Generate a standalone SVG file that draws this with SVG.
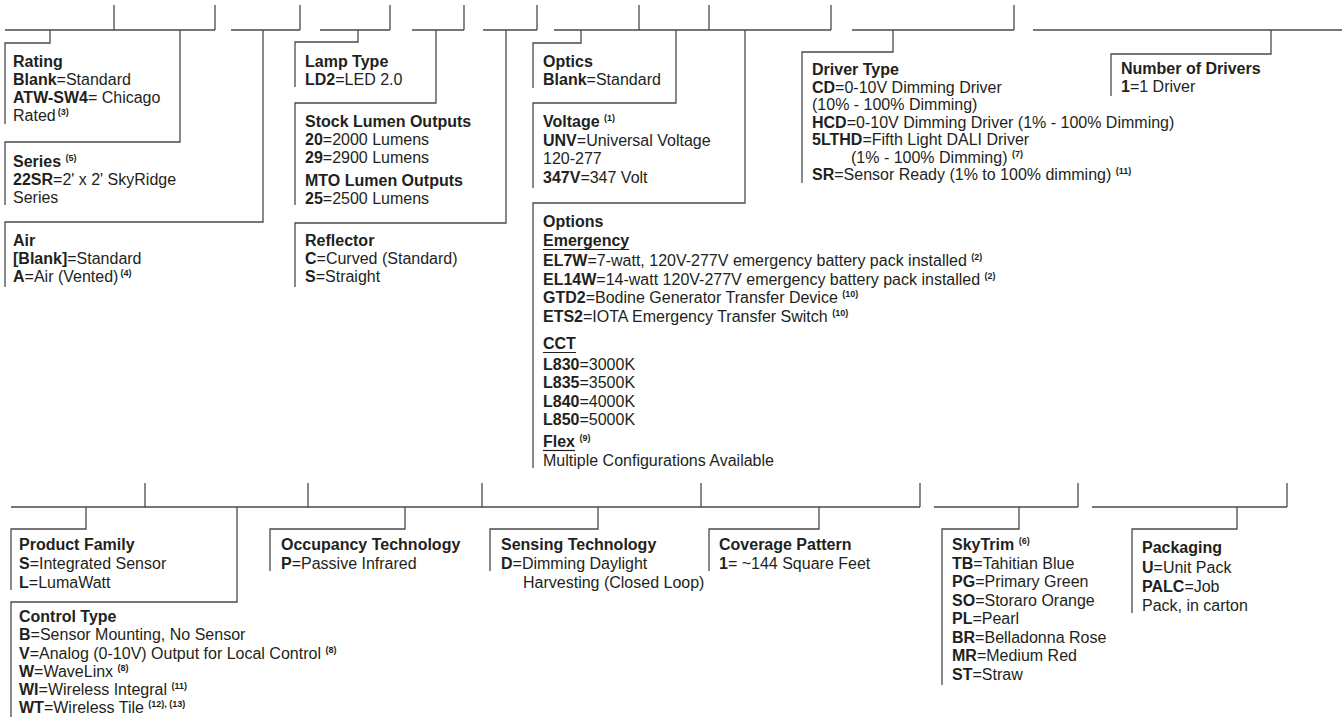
<svg xmlns="http://www.w3.org/2000/svg" width="1342" height="717" viewBox="0 0 1342 717">
<style>
.t{font-family:"Liberation Sans",Arial,Helvetica,sans-serif;font-size:16px;fill:#231f20}
.b{font-weight:bold}
.s{font-size:9px;font-weight:bold}
.ln{stroke:#4a4a4a;stroke-width:1.3;fill:none}
.ul{stroke:#231f20;stroke-width:1.2}
</style>
<rect width="1342" height="717" fill="#ffffff"/>
<g id="connectors" class="ln">
<path d="M5,30H215M114,5V30M215,5V30"/>
<path d="M231,30H300M300,5V30"/>
<path d="M320,30H390M390,5V30"/>
<path d="M412,30H464M464,5V30"/>
<path d="M483,30H537M537,5V30"/>
<path d="M554,30H831M639,5V30M709,5V30M831,5V30"/>
<path d="M852,30H1014M1014,5V30"/>
<path d="M1033,30H1342"/>
<path d="M50,30V43H5V124"/>
<path d="M180,30V142H5V205"/>
<path d="M263,30V222H5V287"/>
<path d="M358,30V42H295V87"/>
<path d="M436,30V103H295V205"/>
<path d="M506,30V223H295V287"/>
<path d="M581,30V43H533V88"/>
<path d="M676,30V103H533V188"/>
<path d="M745,30V203H533V468"/>
<path d="M893,30V52H802V183"/>
<path d="M1271,30V54H1111V96"/>
<path d="M11,507H920M145,483V507M308,483V507M482,483V507M701,483V507M920,483V507"/>
<path d="M934,507H1078M1078,483V507"/>
<path d="M1092,507H1287M1287,483V507"/>
<path d="M86,507V529H11V590"/>
<path d="M237,507V602H11V717"/>
<path d="M405,507V529H270V571"/>
<path d="M598,507V529H490V571"/>
<path d="M819,507V529H709V571"/>
<path d="M1019,507V529H942V685"/>
<path d="M1237,507V529H1132V613"/>
</g>
<g id="rating" class="t">
<text x="13" y="67" class="b">Rating</text>
<text x="13" y="85"><tspan class="b">Blank</tspan>=Standard</text>
<text x="13" y="103"><tspan class="b">ATW-SW4</tspan>= Chicago</text>
<text x="13" y="121">Rated<tspan class="s" dx="2" dy="-6">(3)</tspan></text>
</g>
<g id="series" class="t">
<text x="13" y="167"><tspan class="b">Series</tspan> <tspan class="s" dy="-6">(5)</tspan></text>
<text x="13" y="185"><tspan class="b">22SR</tspan>=2' x 2' SkyRidge</text>
<text x="13" y="203">Series</text>
</g>
<g id="air" class="t">
<text x="13" y="246" class="b">Air</text>
<text x="13" y="264"><tspan class="b">[Blank]</tspan>=Standard</text>
<text x="13" y="282"><tspan class="b">A</tspan>=Air (Vented)<tspan class="s" dx="2" dy="-6">(4)</tspan></text>
</g>
<g id="lamp-type" class="t">
<text x="305" y="67" class="b">Lamp Type</text>
<text x="305" y="85"><tspan class="b">LD2</tspan>=LED 2.0</text>
</g>
<g id="lumen-outputs" class="t">
<text x="305" y="127" class="b">Stock Lumen Outputs</text>
<text x="305" y="145"><tspan class="b">20</tspan>=2000 Lumens</text>
<text x="305" y="163"><tspan class="b">29</tspan>=2900 Lumens</text>
<text x="305" y="186" class="b">MTO Lumen Outputs</text>
<text x="305" y="204"><tspan class="b">25</tspan>=2500 Lumens</text>
</g>
<g id="reflector" class="t">
<text x="305" y="246" class="b">Reflector</text>
<text x="305" y="264"><tspan class="b">C</tspan>=Curved (Standard)</text>
<text x="305" y="282"><tspan class="b">S</tspan>=Straight</text>
</g>
<g id="optics" class="t">
<text x="543" y="67" class="b">Optics</text>
<text x="543" y="85"><tspan class="b">Blank</tspan>=Standard</text>
</g>
<g id="voltage" class="t">
<text x="543" y="127"><tspan class="b">Voltage</tspan> <tspan class="s" dy="-6">(1)</tspan></text>
<text x="543" y="145.5"><tspan class="b">UNV</tspan>=Universal Voltage</text>
<text x="543" y="164">120-277</text>
<text x="543" y="182.5"><tspan class="b">347V</tspan>=347 Volt</text>
</g>
<g id="options" class="t">
<text x="543" y="227" class="b">Options</text>
<text x="543" y="246" class="b">Emergency</text>
<line class="ul" x1="543" y1="249.5" x2="629" y2="249.5"/>
<text x="543" y="266"><tspan class="b">EL7W</tspan>=7-watt, 120V-277V emergency battery pack installed <tspan class="s" dy="-6">(2)</tspan></text>
<text x="543" y="284.5"><tspan class="b">EL14W</tspan>=14-watt 120V-277V emergency battery pack installed <tspan class="s" dy="-6">(2)</tspan></text>
<text x="543" y="303"><tspan class="b">GTD2</tspan>=Bodine Generator Transfer Device <tspan class="s" dy="-6">(10)</tspan></text>
<text x="543" y="321.5"><tspan class="b">ETS2</tspan>=IOTA Emergency Transfer Switch <tspan class="s" dy="-6">(10)</tspan></text>
<text x="543" y="349" class="b">CCT</text>
<line class="ul" x1="543" y1="352.5" x2="576" y2="352.5"/>
<text x="543" y="369.5"><tspan class="b">L830</tspan>=3000K</text>
<text x="543" y="388"><tspan class="b">L835</tspan>=3500K</text>
<text x="543" y="406.5"><tspan class="b">L840</tspan>=4000K</text>
<text x="543" y="425"><tspan class="b">L850</tspan>=5000K</text>
<text x="543" y="447"><tspan class="b">Flex</tspan> <tspan class="s" dy="-6">(9)</tspan></text>
<line class="ul" x1="543" y1="450.5" x2="575" y2="450.5"/>
<text x="543" y="466">Multiple Configurations Available</text>
</g>
<g id="driver-type" class="t">
<text x="812" y="75" class="b">Driver Type</text>
<text x="812" y="92.5"><tspan class="b">CD</tspan>=0-10V Dimming Driver</text>
<text x="812" y="110">(10% - 100% Dimming)</text>
<text x="812" y="127.5"><tspan class="b">HCD</tspan>=0-10V Dimming Driver (1% - 100% Dimming)</text>
<text x="812" y="145"><tspan class="b">5LTHD</tspan>=Fifth Light DALI Driver</text>
<text x="851" y="162.5">(1% - 100% Dimming) <tspan class="s" dy="-6">(7)</tspan></text>
<text x="812" y="180"><tspan class="b">SR</tspan>=Sensor Ready (1% to 100% dimming) <tspan class="s" dy="-6">(11)</tspan></text>
</g>
<g id="number-of-drivers" class="t">
<text x="1121" y="74" class="b">Number of Drivers</text>
<text x="1121" y="92"><tspan class="b">1</tspan>=1 Driver</text>
</g>
<g id="product-family" class="t">
<text x="19" y="550" class="b">Product Family</text>
<text x="19" y="569"><tspan class="b">S</tspan>=Integrated Sensor</text>
<text x="19" y="588"><tspan class="b">L</tspan>=LumaWatt</text>
</g>
<g id="control-type" class="t">
<text x="19" y="622" class="b">Control Type</text>
<text x="19" y="640"><tspan class="b">B</tspan>=Sensor Mounting, No Sensor</text>
<text x="19" y="659"><tspan class="b">V</tspan>=Analog (0-10V) Output for Local Control <tspan class="s" dy="-6">(8)</tspan></text>
<text x="19" y="677"><tspan class="b">W</tspan>=WaveLinx <tspan class="s" dy="-6">(8)</tspan></text>
<text x="19" y="695"><tspan class="b">WI</tspan>=Wireless Integral <tspan class="s" dy="-6">(11)</tspan></text>
<text x="19" y="713"><tspan class="b">WT</tspan>=Wireless Tile <tspan class="s" dy="-6">(12), (13)</tspan></text>
</g>
<g id="occupancy-technology" class="t">
<text x="281" y="550" class="b">Occupancy Technology</text>
<text x="281" y="569"><tspan class="b">P</tspan>=Passive Infrared</text>
</g>
<g id="sensing-technology" class="t">
<text x="501" y="550" class="b">Sensing Technology</text>
<text x="501" y="569"><tspan class="b">D</tspan>=Dimming Daylight</text>
<text x="523" y="588">Harvesting (Closed Loop)</text>
</g>
<g id="coverage-pattern" class="t">
<text x="719" y="550" class="b">Coverage Pattern</text>
<text x="719" y="569"><tspan class="b">1</tspan>= ~144 Square Feet</text>
</g>
<g id="skytrim" class="t">
<text x="952" y="550"><tspan class="b">SkyTrim</tspan> <tspan class="s" dy="-6">(6)</tspan></text>
<text x="952" y="568.5"><tspan class="b">TB</tspan>=Tahitian Blue</text>
<text x="952" y="587"><tspan class="b">PG</tspan>=Primary Green</text>
<text x="952" y="605.5"><tspan class="b">SO</tspan>=Storaro Orange</text>
<text x="952" y="624"><tspan class="b">PL</tspan>=Pearl</text>
<text x="952" y="642.5"><tspan class="b">BR</tspan>=Belladonna Rose</text>
<text x="952" y="661"><tspan class="b">MR</tspan>=Medium Red</text>
<text x="952" y="679.5"><tspan class="b">ST</tspan>=Straw</text>
</g>
<g id="packaging" class="t">
<text x="1142" y="553" class="b">Packaging</text>
<text x="1142" y="573"><tspan class="b">U</tspan>=Unit Pack</text>
<text x="1142" y="592"><tspan class="b">PALC</tspan>=Job</text>
<text x="1142" y="611">Pack, in carton</text>
</g>
</svg>
